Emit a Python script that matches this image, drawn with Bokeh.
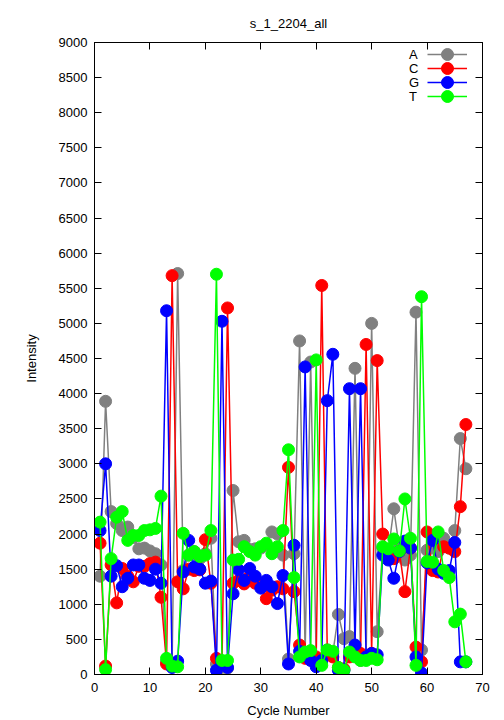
from bokeh.plotting import figure
from bokeh.models import LinearAxis, SingleIntervalTicker, Legend, LegendItem
from bokeh.embed import file_html
from bokeh.resources import INLINE

cycles = list(range(1, 68))

series_names = ["A", "C", "G", "T"]
series_colors = ["#808080", "#ff0000", "#0000ff", "#00ff00"]
title_text = "s_1_2204_all"

A = [1400, 3890, 2320, 2150, 2050, 2100, 1950, 1790, 1800, 1760,
     1720, 1560, 180, 150, 5710, 1480, 1700, 1750, 1650, 1720,
     1940, 150, 100, 90, 2620, 1890, 1910, 1780, 1790, 1800,
     1850, 2030, 2000, 1700, 220, 1720, 4750, 300, 4450, 200,
     200, 350, 300, 855, 510, 540, 4360, 200, 250, 5000,
     610, 1800, 1750, 2360, 1800, 1630, 1700, 5160, 350, 1770,
     1850, 1750, 1940, 1800, 2050, 3360, 2930]

C = [1870, 120, 1560, 1020, 1510, 1400, 1320, 1540, 1540, 1580,
     1600, 1100, 150, 5680, 1320, 1220, 1500, 1480, 1490, 1920,
     1300, 230, 150, 5220, 1300, 1340, 1290, 1400, 1300, 1300,
     1080, 1200, 1250, 1220, 2950, 1180, 420, 230, 300, 250,
     5540, 300, 250, 100, 80, 250, 350, 300, 4700, 300,
     4470, 2000, 1700, 1650, 1750, 1180, 1800, 390, 180, 2030,
     1480, 1460, 1820, 1800, 1750, 2390, 3560]

G = [2050, 3000, 1400, 1550, 1250, 1370, 1560, 1560, 1370, 1340,
     1500, 1300, 5180, 100, 190, 1460, 1910, 1530, 1500, 1300,
     1330, 60, 5030, 100, 1150, 1490, 1340, 1510, 1400, 1230,
     1340, 1250, 1010, 1410, 150, 1840, 330, 4380, 200, 110,
     200, 3900, 4560, 60, 60, 4070, 420, 4070, 250, 300,
     280, 1700, 1630, 1370, 1750, 1900, 1800, 250, 20, 1590,
     1910, 1500, 1440, 1480, 1880, 180, 180]

T = [2170, 70, 1650, 2240, 2320, 1910, 1980, 1980, 2050, 2060,
     2080, 2540, 230, 120, 110, 2010, 1700, 1750, 1680, 1700,
     2050, 5700, 200, 200, 1630, 1640, 1820, 1750, 1700, 1820,
     1870, 1720, 1820, 2050, 3200, 1380, 250, 320, 340, 4480,
     130, 350, 330, 100, 60, 320, 250, 200, 200, 230,
     210, 1820, 1790, 1930, 1760, 2500, 1940, 130, 5380, 1610,
     1600, 2030, 1480, 1380, 750, 860, 180]

FONT = "Liberation Sans"

FRAME_H = 632

p = figure(width=500, height=720, x_range=(0, 70), y_range=(0, 9000),
           output_backend="svg", toolbar_location=None,
           min_border_left=94, min_border_right=18,
           min_border_top=42, min_border_bottom=46)

p.grid.visible = False
p.outline_line_color = "black"
p.outline_line_width = 1
p.outline_line_alpha = 1
p.background_fill_color = "white"
p.border_fill_color = "white"

p.xaxis.ticker = SingleIntervalTicker(interval=10)
p.yaxis.ticker = SingleIntervalTicker(interval=500)

for ax in (p.xaxis[0], p.yaxis[0]):
    ax.major_tick_in = 7
    ax.major_tick_out = 0
    ax.minor_tick_in = 0
    ax.minor_tick_out = 0
    ax.axis_line_color = "black"
    ax.major_tick_line_color = "black"
    ax.major_label_text_font = FONT
    ax.major_label_text_font_size = "13px"
    ax.major_label_text_color = "black"
    ax.axis_label_text_font = FONT
    ax.axis_label_text_font_size = "13px"
    ax.axis_label_text_font_style = "normal"
    ax.axis_label_text_color = "black"

p.xaxis.axis_label = "Cycle Number"
p.yaxis.axis_label = "Intensity"
p.xaxis.major_label_standoff = 8
p.xaxis.axis_label_standoff = 8
p.yaxis.major_label_standoff = 7
p.yaxis.axis_label_standoff = 17

# mirrored top axis (inward ticks) that also carries the chart title
top_ax = LinearAxis(ticker=SingleIntervalTicker(interval=10),
                    major_tick_in=7, major_tick_out=0,
                    minor_tick_in=0, minor_tick_out=0,
                    major_label_text_font_size="1px",
                    major_label_text_color=None,
                    major_label_standoff=0,
                    axis_label=title_text,
                    axis_label_text_font=FONT,
                    axis_label_text_font_size="13px",
                    axis_label_text_font_style="normal",
                    axis_label_text_color="black",
                    axis_label_standoff=12)
right_ax = LinearAxis(ticker=SingleIntervalTicker(interval=500),
                      major_tick_in=7, major_tick_out=0,
                      minor_tick_in=0, minor_tick_out=0,
                      major_label_text_font_size="1px",
                      major_label_text_color=None,
                      major_label_standoff=0)
p.add_layout(top_ax, "above")
p.add_layout(right_ax, "right")


def style_key(lg):
    lg.background_fill_alpha = 0
    lg.border_line_alpha = 0
    lg.label_text_font = FONT
    lg.label_text_font_size = "13px"
    lg.glyph_height = 30
    lg.label_height = 30
    lg.label_standoff = 0
    lg.spacing = 0
    lg.padding = 0
    lg.margin = 0


# gnuplot-style key: text on the left, line+marker sample on the right,
# one small legend per entry so the rows can sit 14px apart
for i, (name, color, vals) in enumerate(zip(series_names, series_colors, [A, C, G, T])):
    ln = p.line(cycles, vals, line_color=color, line_width=1.5)
    sc = p.scatter(cycles, vals, size=12, fill_color=color, line_color=color)
    dummy = p.line(x=[], y=[], line_alpha=0)

    row_y = FRAME_H - 12 - 14 * i - 15   # bottom of the row box, from frame bottom

    g_leg = Legend(items=[LegendItem(label=name, renderers=[ln, sc])],
                   location=(333, row_y))
    style_key(g_leg)
    g_leg.label_text_color = None
    g_leg.glyph_width = 40

    t_leg = Legend(items=[LegendItem(label=name, renderers=[dummy])],
                   location=(314, row_y))
    style_key(t_leg)
    t_leg.label_text_color = "black"
    t_leg.glyph_width = 1

    p.add_layout(g_leg, "center")
    p.add_layout(t_leg, "center")

open("out.html", "w").write(file_html(p, INLINE))
